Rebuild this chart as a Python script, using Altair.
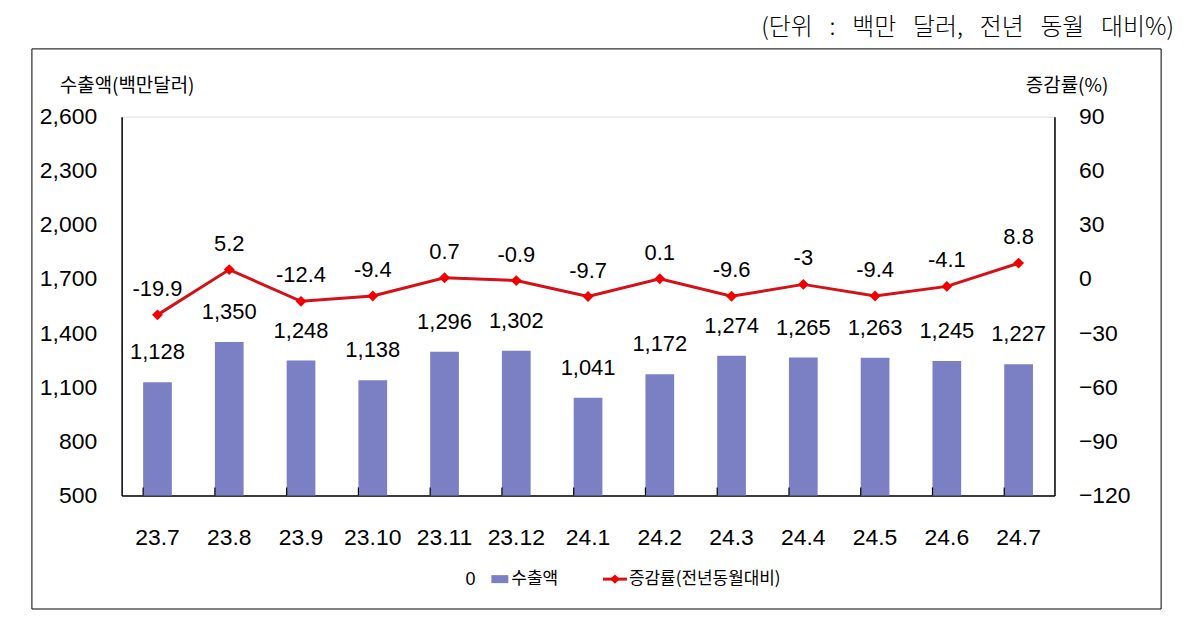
import altair as alt
import pandas as pd

categories = ["23.7", "23.8", "23.9", "23.10", "23.11", "23.12", "24.1",
              "24.2", "24.3", "24.4", "24.5", "24.6", "24.7"]
exports = [1128, 1350, 1248, 1138, 1296, 1302, 1041, 1172, 1274, 1265, 1263, 1245, 1227]
rates = [-19.9, 5.2, -12.4, -9.4, 0.7, -0.9, -9.7, 0.1, -9.6, -3, -9.4, -4.1, 8.8]
left_ticks = [500, 800, 1100, 1400, 1700, 2000, 2300, 2600]
right_ticks = [-120, -90, -60, -30, 0, 30, 60, 90]

df = pd.DataFrame({
    "cat": categories,
    "exports": exports,
    "rate": rates,
    "exp_label": [f"{v:,}" for v in exports],
    "rate_label": [f"{v:g}" for v in rates],
})

LAT = "Liberation Sans"
KR = "Noto Sans CJK KR"
BAR = "#7B7FC4"
RED_LINE = "#D41018"
RED_PT = "#F20000"

W, H = 936, 380

xenc = alt.X("cat:N", sort=categories,
             scale=alt.Scale(paddingInner=0.6, paddingOuter=0.3),
             axis=alt.Axis(title=None, labelAngle=0, ticks=False, domainColor="black",
                           domainWidth=1.5, labelFont=LAT, labelFontSize=23,
                           labelColor="black", labelPadding=31))

ly = alt.Y("exports:Q", scale=alt.Scale(domain=[500, 2600], nice=False, zero=False),
           axis=alt.Axis(title=None, values=left_ticks,
                         labelExpr="format(datum.value, ',')", ticks=False, grid=False,
                         domainColor="black", domainWidth=1.5, labelFont=LAT,
                         labelFontSize=23, labelColor="black", labelPadding=25,
                         orient="left"))

ry = alt.Y("rate:Q", scale=alt.Scale(domain=[-120, 90], nice=False, zero=False),
           axis=alt.Axis(title=None, values=right_ticks, ticks=False, grid=False,
                         domainColor="black", domainWidth=1.5, labelFont=LAT,
                         labelFontSize=23, labelColor="black", labelPadding=24,
                         orient="right"))

base = alt.Chart(df)

bars = base.mark_bar(color=BAR).encode(x=xenc, y=ly, y2=alt.datum(500))
bar_text = base.mark_text(font=LAT, fontSize=22, color="black", dy=-30,
                          baseline="middle").encode(x=xenc, y=ly, text="exp_label:N")
xticks = base.mark_rule(color="black", strokeWidth=1.2).encode(
    x=alt.X("cat:N", sort=categories, bandPosition=0),
    y=alt.value(H - 8), y2=alt.value(H))

left_group = alt.layer(bars, bar_text, xticks)

line = base.mark_line(color=RED_LINE, strokeWidth=3).encode(x=xenc, y=ry)
pts = base.mark_point(shape="diamond", filled=True, color=RED_PT, size=120,
                      opacity=1).encode(x=xenc, y=ry)
line_text = base.mark_text(font=LAT, fontSize=22, color="black", dy=-26,
                           baseline="middle").encode(x=xenc, y=ry, text="rate_label:N")
right_group = alt.layer(line, pts, line_text)

dummy = alt.Chart(pd.DataFrame({"d": [0]}))

frame = dummy.mark_rect(fill=None, stroke="black", strokeWidth=1).encode(
    x=alt.value(-90), x2=alt.value(1043), y=alt.value(-68), y2=alt.value(494))

SP = "\u2002\u2009"
unit_str = f"(단위{SP}:{SP}백만{SP}달러,{SP}전년{SP}동월{SP}대비%)"
unit_text = dummy.mark_text(font=KR, fontSize=24, fontWeight=300, color="black",
                            align="right", baseline="middle").encode(
    x=alt.value(1056), y=alt.value(-89), text=alt.value(unit_str))

ltitle = dummy.mark_text(font=KR, fontSize=19, color="black", align="left",
                         baseline="middle").encode(
    x=alt.value(-62), y=alt.value(-31), text=alt.value("수출액(백만달러)"))
rtitle = dummy.mark_text(font=KR, fontSize=19, color="black", align="right",
                         baseline="middle").encode(
    x=alt.value(990), y=alt.value(-31), text=alt.value("증감률(%)"))

LY = 464
leg_zero = dummy.mark_text(font=LAT, fontSize=18, color="black", align="center",
                           baseline="middle").encode(
    x=alt.value(350), y=alt.value(LY + 1), text=alt.value("0"))
leg_bar = dummy.mark_rect(color=BAR).encode(
    x=alt.value(371), x2=alt.value(388), y=alt.value(LY - 4), y2=alt.value(LY + 4))
leg_bar_t = dummy.mark_text(font=KR, fontSize=17, color="black", align="left",
                            baseline="middle").encode(
    x=alt.value(391), y=alt.value(LY), text=alt.value("수출액"))
leg_line = dummy.mark_rule(color=RED_LINE, strokeWidth=3).encode(
    x=alt.value(483), x2=alt.value(507), y=alt.value(LY))
leg_pt = dummy.mark_point(shape="diamond", filled=True, color=RED_PT, size=90, opacity=1).encode(
    x=alt.value(495), y=alt.value(LY))
leg_line_t = dummy.mark_text(font=KR, fontSize=17, color="black", align="left",
                             baseline="middle").encode(
    x=alt.value(509), y=alt.value(LY), text=alt.value("증감률(전년동월대비)"))

decor = alt.layer(frame, unit_text, ltitle, rtitle, leg_zero, leg_bar, leg_bar_t,
                  leg_line, leg_pt, leg_line_t)

chart = alt.layer(left_group, right_group, decor).resolve_scale(y="independent").properties(
    width=W, height=H,
    autosize=alt.AutoSizeParams(type="none"),
    padding={"left": 114, "top": 108, "right": 140, "bottom": 130},
).configure_view(stroke=None).configure(background="white")

chart.save("out.html", embed_options={"renderer": "svg", "actions": False})
